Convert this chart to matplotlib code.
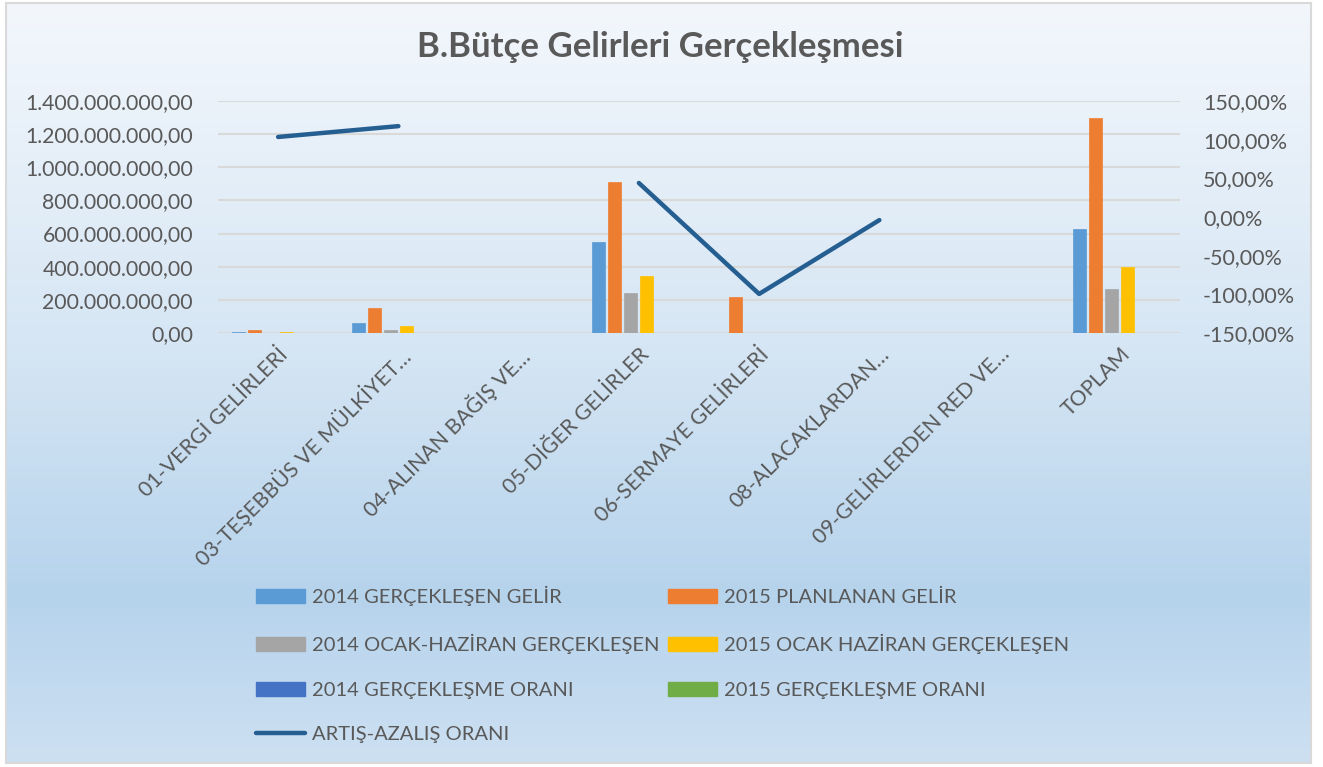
import numpy as np
import matplotlib
matplotlib.use("Agg")
import matplotlib.pyplot as plt
from matplotlib.colors import LinearSegmentedColormap
from matplotlib.ticker import FuncFormatter, MultipleLocator
from matplotlib.patches import Rectangle
from matplotlib.lines import Line2D

plt.rcParams['font.family'] = ['Lato', 'DejaVu Sans']

categories = ["01-VERGİ GELİRLERİ", "03-TEŞEBBÜS VE MÜLKİYET…", "04-ALINAN BAĞIŞ VE…",
              "05-DİĞER GELİRLER", "06-SERMAYE GELİRLERİ", "08-ALACAKLARDAN…",
              "09-GELİRLERDEN RED VE…", "TOPLAM"]

gelir_2014 = [5e6, 63e6, 0, 552e6, 0, 0, 0, 626e6]
plan_2015 = [18e6, 150e6, 0, 910e6, 217e6, 0, 0, 1300e6]
ocak_haz_2014 = [2e6, 20e6, 0, 240e6, 0, 0, 0, 268e6]
ocak_haz_2015 = [5e6, 45e6, 0, 345e6, 0, 0, 0, 400e6]
oran_2014 = [0.45, 0.32, 0, 0.43, 0, 0, 0, 0.43]
oran_2015 = [0.30, 0.30, 0, 0.38, 0, 0, 0, 0.31]
artis_azalis = [1.035, 1.175, np.nan, 0.44, -0.995, -0.04, np.nan, np.nan]

series = [
    ("2014 GERÇEKLEŞEN GELİR", gelir_2014, "#5b9bd5"),
    ("2015 PLANLANAN GELİR", plan_2015, "#ed7d31"),
    ("2014 OCAK-HAZİRAN GERÇEKLEŞEN", ocak_haz_2014, "#a5a5a5"),
    ("2015 OCAK HAZİRAN GERÇEKLEŞEN", ocak_haz_2015, "#ffc000"),
    ("2014 GERÇEKLEŞME ORANI", oran_2014, "#4472c4"),
    ("2015 GERÇEKLEŞME ORANI", oran_2015, "#70ad47"),
]
line_label = "ARTIŞ-AZALIŞ ORANI"
line_color = "#255e91"
text_color = "#595959"
grid_color = "#d9d9d9"

W, H = 1323, 767
fig = plt.figure(figsize=(W / 100, H / 100), dpi=100)

# background gradient
bg = fig.add_axes([6 / W, 1 - 763 / H, (1311 - 6) / W, (763 - 3) / H])
cmap = LinearSegmentedColormap.from_list(
    "bg", [(0.0, "#f3f7fc"), (0.45, "#d6e6f4"), (0.78, "#b6d3ec"), (1.0, "#cde0f2")])
grad = np.linspace(0, 1, 256).reshape(-1, 1)
bg.imshow(grad, aspect="auto", cmap=cmap, extent=[0, 1, 0, 1], origin="upper")
bg.set_xlim(0, 1); bg.set_ylim(0, 1)
bg.set_xticks([]); bg.set_yticks([])
for s in bg.spines.values():
    s.set_color("#d9d9d9"); s.set_linewidth(1.5)

ax = fig.add_axes([218 / W, 1 - 333 / H, (1180 - 218) / W, (333 - 101) / H])
ax.patch.set_alpha(0)
x = np.arange(len(categories))
n = len(series)
slot = 0.133
bw = 0.108
for i, (name, vals, col) in enumerate(series):
    off = (i - (n - 1) / 2) * slot
    ax.bar(x + off, vals, width=bw, color=col, edgecolor=col, linewidth=0.5, zorder=2)

ax.set_xlim(-0.5, len(categories) - 0.5)
ax.set_ylim(0, 1.4e9)
ax.yaxis.set_major_locator(MultipleLocator(2e8))

def fmt_tr(v, pos):
    s = f"{v:,.2f}"
    return s.replace(",", "X").replace(".", ",").replace("X", ".")
ax.yaxis.set_major_formatter(FuncFormatter(fmt_tr))
ax.grid(axis="y", color=grid_color, linewidth=1.5, zorder=0)
ax.set_axisbelow(True)
for s in ax.spines.values():
    s.set_visible(False)
ax.tick_params(axis="y", length=0, pad=18, labelsize=15.3, labelcolor=text_color)
ax.tick_params(axis="x", length=0, pad=8, labelsize=15.3, labelcolor=text_color)
ax.set_xticks(x)
ax.set_xticklabels(categories, rotation=45, ha="right", rotation_mode="anchor")

ax2 = ax.twinx()
ax2.plot(x, artis_azalis, color=line_color, linewidth=3.2, solid_capstyle="round",
         solid_joinstyle="round", zorder=3)
ax2.set_ylim(-1.5, 1.5)
ax2.yaxis.set_major_locator(MultipleLocator(0.5))
ax2.yaxis.set_major_formatter(FuncFormatter(lambda v, p: f"{v*100:.2f}%".replace(".", ",")))
for s in ax2.spines.values():
    s.set_visible(False)
ax2.tick_params(axis="y", length=0, pad=16.5, labelsize=15.5, labelcolor=text_color)

fig.text(660 / W, 1 - 47 / H, "B.Bütçe Gelirleri Gerçekleşmesi", ha="center", va="center",
         fontsize=25, fontweight="bold", color=text_color)

handles = [Rectangle((0, 0), 1, 1, color=c) for _, _, c in series]
labels = [nme for nme, _, _ in series]
handles.append(Line2D([0], [0], color=line_color, linewidth=3.2, solid_capstyle="round"))
labels.append(line_label)
order = [0, 2, 4, 6, 1, 3, 5]
leg = fig.legend([handles[i] for i in order], [labels[i] for i in order], ncol=2,
                 loc="upper left", bbox_to_anchor=(242 / W, 1 - 572 / H), frameon=False,
                 fontsize=14.5, labelcolor=text_color, handlelength=2.45, handleheight=0.7,
                 handletextpad=0.35, columnspacing=0.4, labelspacing=1.37, borderpad=0.2)

fig.savefig("out.png", dpi=100)
